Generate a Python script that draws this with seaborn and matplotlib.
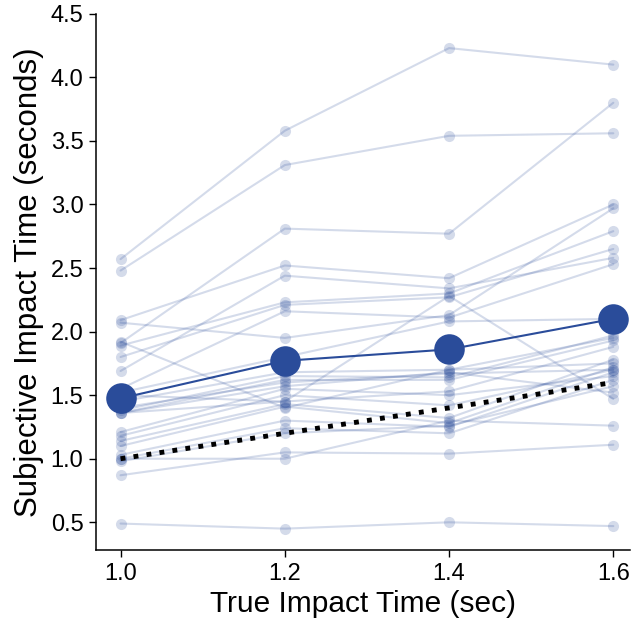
import numpy as np
import pandas as pd
import matplotlib
matplotlib.use("Agg")
import matplotlib.pyplot as plt
import seaborn as sns

# True impact times (x categories)
true_times = [1.0, 1.2, 1.4, 1.6]

# Subjective impact times per subject at each true time
resp_10 = [0.49, 2.57, 2.48, 1.91, 2.09, 2.07, 1.89, 1.80, 1.69, 1.55, 1.52, 1.45, 1.40, 1.38,
           1.36, 1.36, 1.21, 1.18, 1.14, 1.10, 1.03, 1.00, 0.98, 0.87, 1.00, 1.36, 1.50, 1.92]
resp_12 = [0.45, 3.58, 3.31, 2.81, 2.52, 1.95, 2.23, 2.21, 2.44, 2.16, 1.80, 1.68, 1.60, 1.65,
           1.62, 1.45, 1.55, 1.50, 1.43, 1.41, 1.30, 1.24, 1.20, 1.05, 1.00, 1.57, 1.45, 1.40]
resp_14 = [0.50, 4.23, 3.54, 2.77, 2.42, 2.13, 2.30, 2.27, 2.34, 2.11, 2.08, 1.70, 1.67, 1.64,
           1.62, 1.53, 1.50, 1.42, 1.32, 1.28, 1.25, 1.20, 1.26, 1.04, 1.30, 1.68, 2.28, 1.70]
resp_16 = [0.47, 4.10, 3.56, 3.80, 3.00, 2.97, 2.79, 2.65, 2.58, 2.53, 2.10, 1.95, 1.70, 1.97,
           1.93, 1.88, 1.65, 1.70, 1.78, 1.72, 1.68, 1.62, 1.57, 1.11, 1.26, 1.52, 1.47, 1.75]

x_label = "True Impact Time (sec)"
y_label = "Subjective Impact Time (seconds)"
x_ticks = [1.0, 1.2, 1.4, 1.6]
y_ticks = [0.5, 1.0, 1.5, 2.0, 2.5, 3.0, 3.5, 4.0, 4.5]

n_sub = len(resp_10)
df = pd.DataFrame({
    "subject": np.tile(np.arange(n_sub), len(true_times)),
    "true": np.repeat(true_times, n_sub),
    "resp": np.concatenate([resp_10, resp_12, resp_14, resp_16]),
})
ident = pd.DataFrame({"true": [true_times[0], true_times[-1]],
                      "resp": [true_times[0], true_times[-1]]})

sns.set_style("ticks")
plt.rcParams["font.family"] = ["Liberation Sans", "DejaVu Sans"]

fig = plt.figure(figsize=(6.31, 6.26), dpi=100)
ax = fig.add_axes([0.152, 0.121, 0.846, 0.857])

blue = "#2a4c9a"
sns.lineplot(data=df, x="true", y="resp", units="subject", estimator=None,
             color=blue, alpha=0.2, lw=1.5, marker="o", markersize=8,
             markeredgewidth=0, ax=ax, legend=False)
sns.lineplot(data=ident, x="true", y="resp", color="black", lw=3.5,
             linestyle=(0, (1, 1.7)), ax=ax, legend=False)
sns.lineplot(data=df, x="true", y="resp", estimator="mean", errorbar=None,
             color=blue, lw=1.5, marker="o", markersize=22, markeredgewidth=0,
             ax=ax, legend=False)

ax.set_xlim(0.97, 1.62)
ax.set_ylim(0.28, 4.5)
ax.set_xticks(x_ticks)
ax.set_xticklabels([f"{t:.1f}" for t in x_ticks])
ax.set_yticks(y_ticks)
ax.set_yticklabels([f"{t:.1f}" for t in y_ticks])
ax.set_xlabel(x_label, fontsize=21.5, labelpad=4, color="black")
ax.set_ylabel(y_label, fontsize=22.5, labelpad=5, color="black")
ax.tick_params(labelsize=17, length=5, width=1, colors="black", labelcolor="black", pad=4)
for s in ["left", "bottom"]:
    ax.spines[s].set_linewidth(1.1)
    ax.spines[s].set_color("black")
sns.despine(ax=ax)

fig.savefig("out.png", dpi=100)
